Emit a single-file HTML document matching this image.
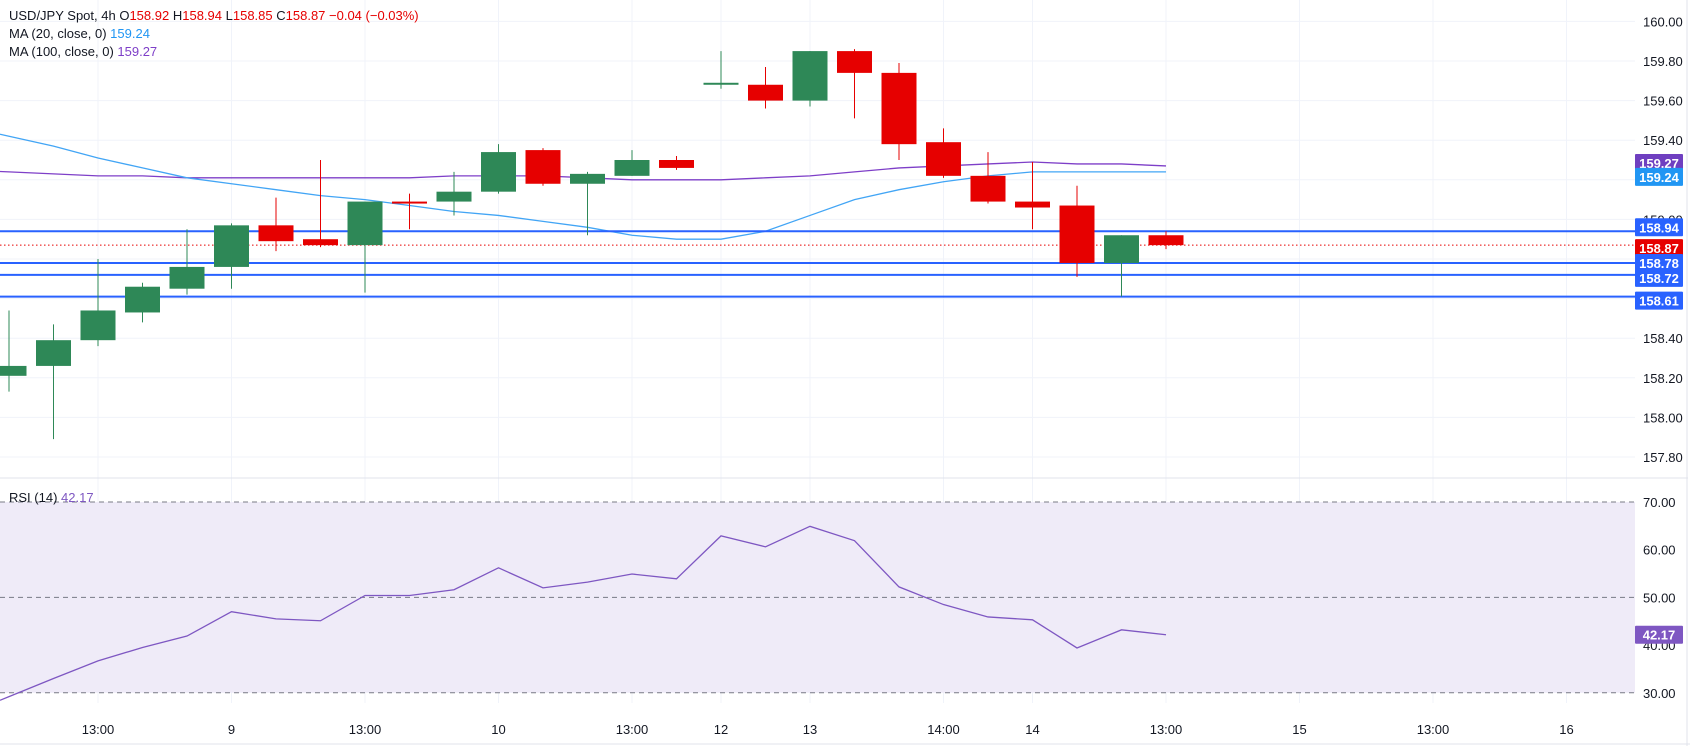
<!DOCTYPE html>
<html><head><meta charset="utf-8"><style>
html,body{margin:0;padding:0;background:#fff;}
svg{display:block;font-family:"Liberation Sans",sans-serif;}
</style></head><body>
<svg id="chart" width="1690" height="746" viewBox="0 0 1690 746">
<rect x="0" y="0" width="1690" height="746" fill="#fff"/>
<g id="grid"></g>
<rect id="rsiband" x="0" y="0" width="1635" height="0" fill="#efebf8"/>
<g id="marks"></g>
<line x1="0" y1="478" x2="1688" y2="478" stroke="#e0e3eb"/>
<line x1="1687" y1="0" x2="1687" y2="746" stroke="#e0e3eb"/>
<line x1="0" y1="744" x2="1690" y2="744" stroke="#e0e3eb"/>
<g id="labels"></g>
<g font-size="13">
<text x="9" y="20" fill="#131722">USD/JPY Spot, 4h  <tspan fill="#131722">O</tspan><tspan fill="#e60000">158.92</tspan>  <tspan fill="#131722">H</tspan><tspan fill="#e60000">158.94</tspan>  <tspan fill="#131722">L</tspan><tspan fill="#e60000">158.85</tspan>  <tspan fill="#131722">C</tspan><tspan fill="#e60000">158.87  −0.04 (−0.03%)</tspan></text>
<text x="9" y="38" fill="#131722">MA (20, close, 0)  <tspan fill="#2196f3">159.24</tspan></text>
<text x="9" y="56" fill="#131722">MA (100, close, 0)  <tspan fill="#7e3fc8">159.27</tspan></text>
<text x="9" y="502" fill="#131722">RSI (14)  <tspan fill="#7e57c2">42.17</tspan></text>
</g>
</svg>
<script>
const opens  = [158.21,158.26,158.39,158.53,158.65,158.76,158.97,158.90,158.87,159.09,159.09,159.14,159.35,159.18,159.22,159.30,159.68,159.68,159.60,159.85,159.74,159.39,159.22,159.09,159.07,158.78,158.92];
const highs  = [158.54,158.47,158.80,158.68,158.95,158.98,159.11,159.30,159.09,159.13,159.24,159.38,159.36,159.24,159.35,159.32,159.85,159.77,159.85,159.86,159.79,159.46,159.34,159.29,159.17,158.92,158.94];
const lows   = [158.13,157.89,158.36,158.48,158.62,158.65,158.84,158.86,158.63,158.95,159.02,159.13,159.17,158.92,159.22,159.25,159.66,159.56,159.57,159.51,159.30,159.21,159.08,158.95,158.71,158.61,158.85];
const closes = [158.26,158.39,158.54,158.66,158.76,158.97,158.89,158.87,159.09,159.08,159.14,159.34,159.18,159.23,159.30,159.26,159.69,159.60,159.85,159.74,159.38,159.22,159.09,159.06,158.78,158.92,158.87];
const ma20  = [159.42,159.37,159.31,159.26,159.21,159.18,159.15,159.12,159.10,159.07,159.04,159.02,158.99,158.96,158.92,158.90,158.90,158.94,159.02,159.10,159.15,159.19,159.22,159.24,159.24,159.24,159.24];
const ma100 = [159.24,159.23,159.22,159.22,159.21,159.21,159.21,159.21,159.21,159.21,159.22,159.22,159.22,159.21,159.20,159.20,159.20,159.21,159.22,159.24,159.26,159.27,159.28,159.29,159.28,159.28,159.27];
const rsi = [29.2,33,36.7,39.5,41.9,47,45.5,45.1,50.4,50.4,51.6,56.2,52.0,53.2,54.9,53.9,62.9,60.6,64.9,61.9,52.2,48.5,45.9,45.3,39.4,43.2,42.17];
const levels = [158.94,158.78,158.72,158.61];
const priceTicks = ["160.00","159.80","159.60","159.40","159.20","159.00","158.80","158.60","158.40","158.20","158.00","157.80"];
const rsiTicks = ["70.00","60.00","50.00","40.00","30.00"];
const timeLabels = ["13:00","9","13:00","10","13:00","12","13","14:00","14","13:00","15","13:00","16"];
const timeSlots = [2,5,8,11,14,16,18,21,23,26,29,32,35];
const lastPrice = 158.87;

const NS="http://www.w3.org/2000/svg";
const xOf = i => 9 + i*44.5;
const yP = p => 21.4 + (160 - p)*198;
const yR = v => 502 + (70 - v)*4.77;
const PR = 1635;
function mk(tag, attrs, parent){const e=document.createElementNS(NS,tag);for(const k in attrs)e.setAttribute(k,attrs[k]);parent.appendChild(e);return e;}
const grid=document.getElementById('grid'), marks=document.getElementById('marks'), labels=document.getElementById('labels');

priceTicks.forEach(t=>{const y=yP(parseFloat(t));
 const l=mk('line',{x1:0,x2:PR,y1:y,y2:y,stroke:'#f0f3fa'},grid);
 
 
 const tx=mk('text',{x:1643,y:y+5,'font-size':13,fill:'#131722'},labels);tx.textContent=t;
 
 
});
rsiTicks.forEach(t=>{const v=parseFloat(t);const y=yR(v);
 const dashed=(v===70||v===50||v===30);
 const l=mk('line',{x1:0,x2:PR,y1:y,y2:y,stroke:dashed?'#787b86':'#e6e3ef','stroke-dasharray':dashed?'5,4':'none'},dashed?marks:grid);
 
 
 const tx=mk('text',{x:1643,y:y+5,'font-size':13,fill:'#131722'},labels);tx.textContent=t;
 
 
});
const band=document.getElementById('rsiband');band.setAttribute('y',yR(70));band.setAttribute('height',yR(30)-yR(70));
timeLabels.forEach((t,k)=>{const x=xOf(timeSlots[k]);
 const l=mk('line',{x1:x,x2:x,y1:0,y2:703,stroke:'#f0f3fa'},grid);
 
 
 const tx=mk('text',{x:x,y:734,'font-size':13,fill:'#131722','text-anchor':'middle'},labels);tx.textContent=t;
 
 
});
// lines (first segment extended back to the left edge)
function line(arr, f, color, name){
 const x0=xOf(0), x1=xOf(1), y0=f(arr[0]), y1=f(arr[1]);
 const yLead = y0 - (y1-y0)*(x0/(x1-x0));
 const pts=['0,'+yLead].concat(arr.map((v,i)=>xOf(i)+','+f(v))).join(' ');
 const pl=mk('polyline',{points:pts,fill:'none',stroke:color,'stroke-width':1.3},marks);
 
 }
line(ma100,yP,'#7e3fc8','ma100-line');
line(ma20,yP,'#42a5f5','ma20-line');
line(rsi,yR,'#7e57c2','rsi-line');
// levels
levels.forEach(v=>{const y=yP(v);
 const l=mk('line',{x1:0,x2:PR,y1:y,y2:y,stroke:'#2962ff','stroke-width':2},marks);
 
 
});
const pl=mk('line',{x1:0,x2:PR,y1:yP(lastPrice),y2:yP(lastPrice),stroke:'#e60000','stroke-dasharray':'1.5,2.5'},marks);


// candles
opens.forEach((o,i)=>{const c=closes[i];const up=c>=o;const col=up?'#2e8857':'#e60000';const x=xOf(i);
 const g=mk('g',{},marks);
 
 
 mk('line',{x1:x,x2:x,y1:yP(highs[i]),y2:yP(lows[i]),stroke:col,'stroke-width':1},g);
 const top=yP(Math.max(o,c)),bot=yP(Math.min(o,c));
 mk('rect',{x:x-17.5,y:top,width:35,height:Math.max(1.2,bot-top),fill:col},g);
});
// right labels
function tag(v,y,col,name){const r=mk('rect',{x:1635,y:y-9,width:48,height:18,fill:col,rx:1},labels);
 
 
 const t=mk('text',{x:1659,y:y+5,'font-size':13,fill:'#fff','text-anchor':'middle','font-weight':'bold'},labels);t.textContent=v;}
tag('159.27',yP(159.27)-3,'#6f3fc0','ma100-tag');
tag('159.24',yP(159.24)+5,'#2196f3','ma20-tag');
tag('158.94',yP(158.94)-4,'#2962ff','level-tag');
tag('158.87',yP(158.87)+3,'#e60000','price-tag');
tag('158.78',yP(158.78),'#2962ff','level-tag');
tag('158.72',yP(158.72)+3,'#2962ff','level-tag');
tag('158.61',yP(158.61)+4,'#2962ff','level-tag');
tag('42.17',yR(42.17),'#7e57c2','rsi-tag');
</script>
</body></html>
